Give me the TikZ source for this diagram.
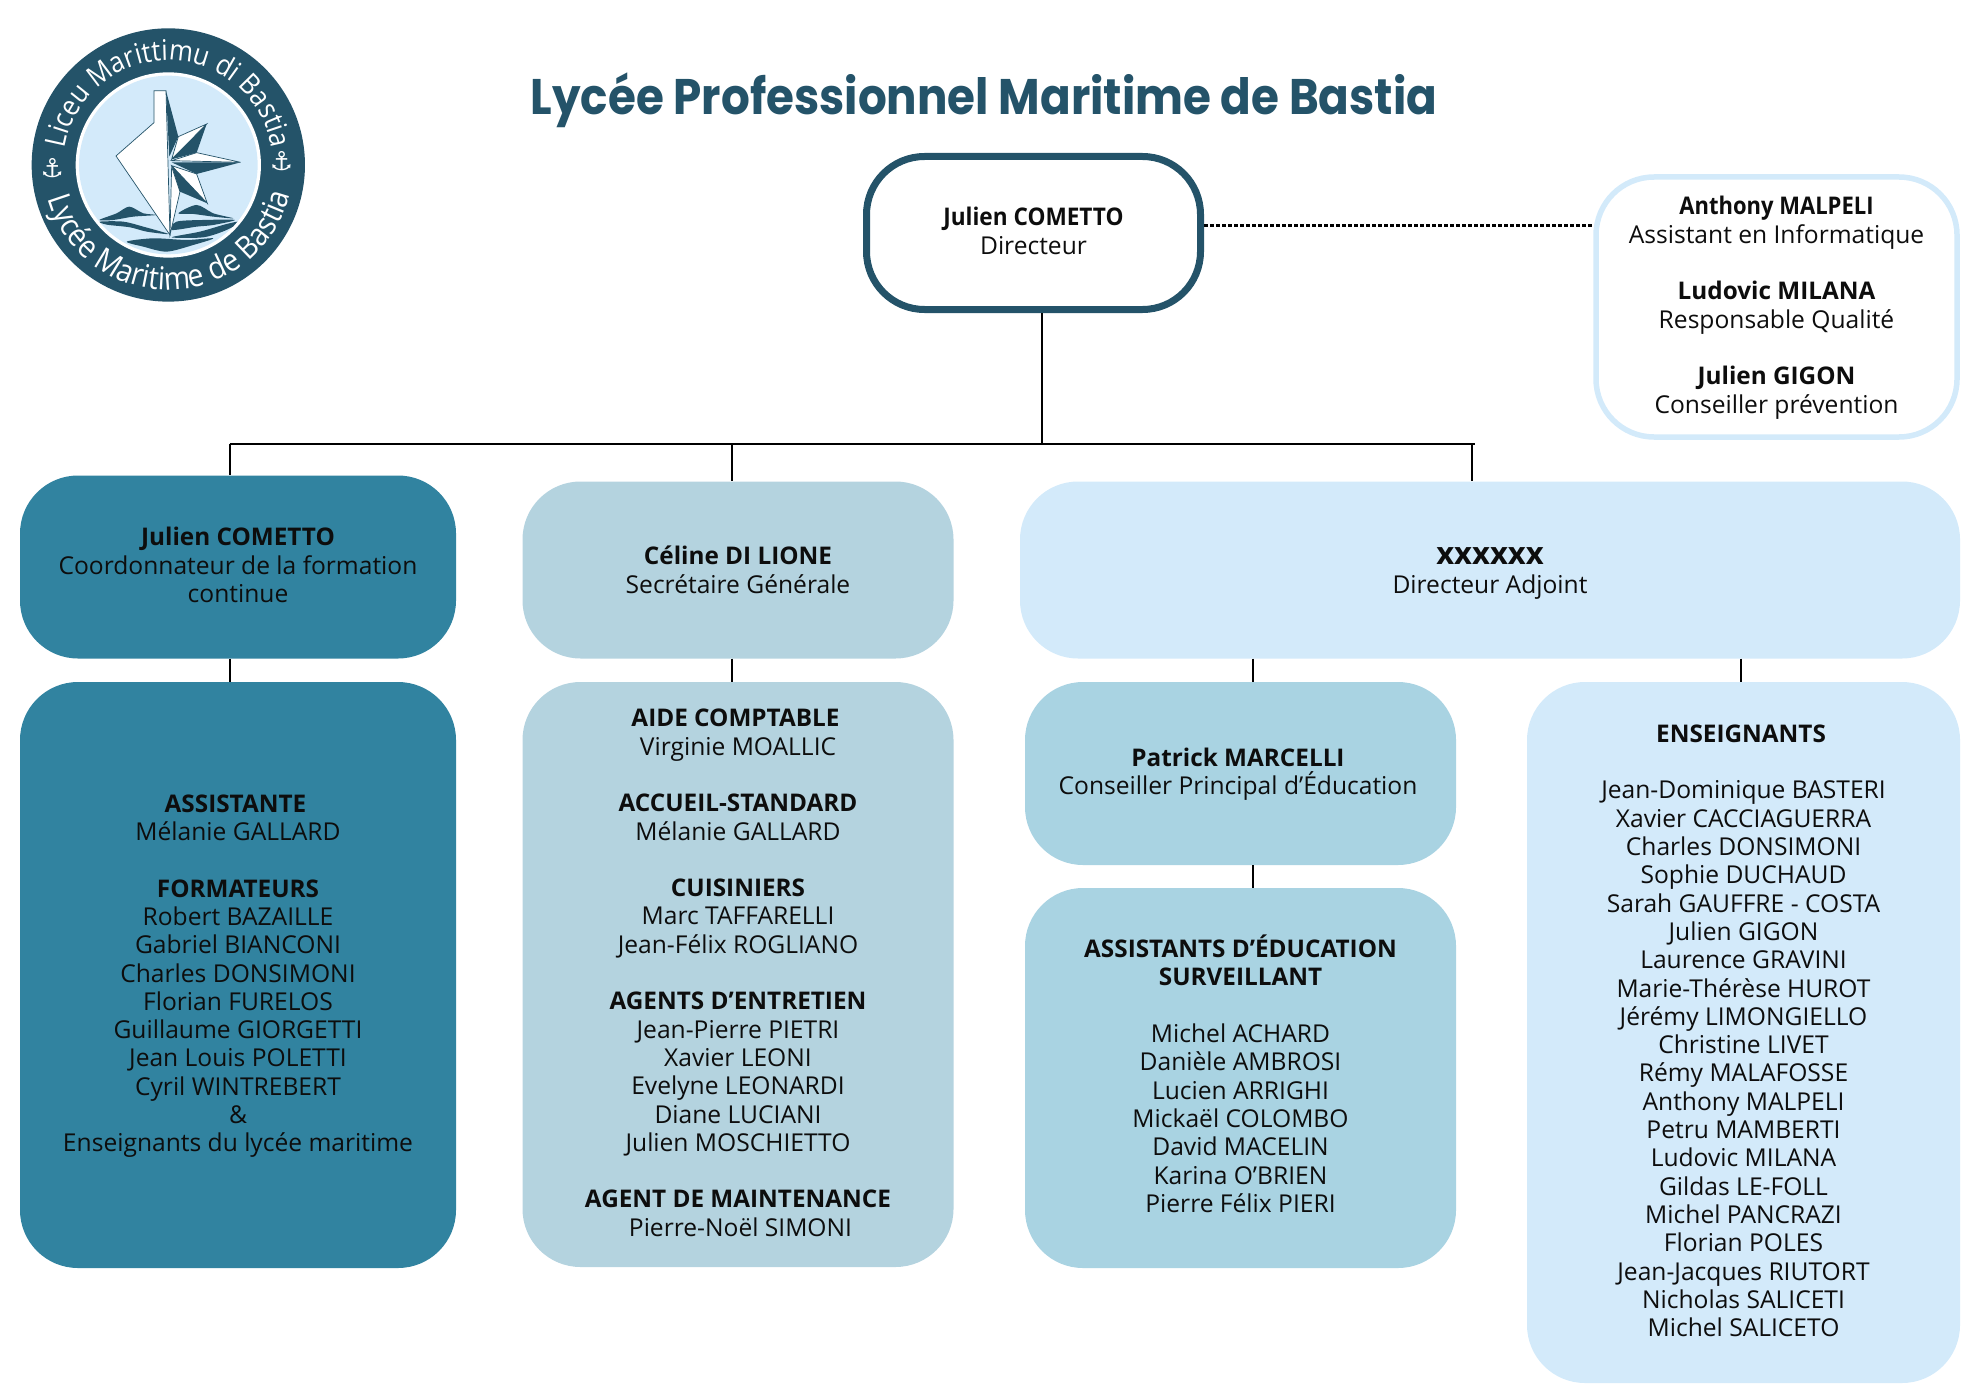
\documentclass[tikz,border=0pt]{standalone}
\usepackage{fontspec}
\usepackage{tikz}
\usetikzlibrary{decorations.text}
\setmainfont{Open Sans}
\newfontfamily\titlefont[FakeStretch=0.905]{Poppins}
\newfontfamily\symfont{DejaVu Sans}
\newfontfamily\logofont[FakeStretch=0.9]{Open Sans}
\definecolor{logoblue}{HTML}{245369}
\definecolor{logosky}{HTML}{D3EAFA}
\definecolor{teal}{HTML}{3183A0}
\definecolor{mist}{HTML}{B4D3DF}
\definecolor{sky}{HTML}{D3EAFA}
\definecolor{aqua}{HTML}{A9D3E2}
\definecolor{ink}{HTML}{0D0D0D}
\newcommand{\nm}[1]{{\fontsize{24.3}{28.3}\selectfont\bfseries #1}}
\newcommand{\nmn}[2]{\scalebox{#1}[1]{\nm{#2}}}
\newcommand{\gap}{\\[28.3pt]}
\newcommand{\firstln}{\rule{0pt}{26pt}}
\newcommand{\lastln}[1][12]{\rule[-#1pt]{0pt}{#1pt}}
\newcommand{\ls}{\hspace*{5pt}}

\begin{document}
\begin{tikzpicture}[x=1pt,y=-1pt]
    \tikzstyle{orgbox}=[rounded corners=58pt,inner sep=0pt,align=center,text=ink,font=\fontsize{24.6}{28.3}\selectfont]
    \tikzstyle{framed}=[orgbox,draw,fill=white]
    \tikzstyle{link}=[draw=black,line width=2pt]
    \tikzstyle{logotext}=[text=white,inner sep=0pt,font=\symfont\fontsize{26}{26}\selectfont]
    \useasboundingbox (0,0) rectangle (1980,1399);

    % logo, in the pixels of the crop
    \begin{scope}[x=0.3333pt,y=-0.3333pt]
        \fill[logoblue] (505,495) circle (410);
        \fill[white] (505,495) circle (278);
        \fill[logosky] (505,495) circle (268);
        \begin{scope}
            \clip (505,495) circle (268);
            \fill[logoblue] plot[smooth cycle,tension=0.5] coordinates {(298,660) (350,640) (388,620) (430,640) (470,645) (400,650) (340,660)};
            \fill[logoblue] plot[smooth cycle,tension=0.5] coordinates {(300,665) (370,665) (430,680) (505,702) (440,695) (390,682) (320,674)};
            \fill[logoblue] plot[smooth cycle,tension=0.5] coordinates {(535,640) (590,615) (640,640) (700,655) (640,650) (580,642)};
            \fill[logoblue] plot[smooth cycle,tension=0.5] coordinates {(530,665) (610,660) (705,660) (640,675) (590,680) (515,690)};
            \fill[logoblue] plot[smooth cycle,tension=0.5] coordinates {(515,712) (600,695) (680,672) (720,665) (680,690) (610,712)};
            \fill[logoblue] plot[smooth cycle,tension=0.5] coordinates {(380,725) (460,715) (560,720) (640,715) (580,735) (500,755) (430,740)};
        \end{scope}
        \filldraw[fill=white,draw=logoblue,line width=0.7pt] (462,272) -- (498,272) -- (510,705) -- (348,468) -- (462,368) -- cycle;
        \filldraw[fill=white,draw=logoblue,line width=0.7pt] (515,500) -- (540,575) -- (510,705) -- cycle;
        \fill[logoblue] (498,272) -- (535,410) -- (508,470) -- cycle;
        \filldraw[fill=white,draw=logoblue,line width=0.7pt] (515,478) -- (535,410) -- (620,372) -- cycle;
        \fill[logoblue] (515,478) -- (620,372) -- (590,458) -- cycle;
        \filldraw[fill=white,draw=logoblue,line width=0.7pt] (515,482) -- (590,458) -- (722,487) -- cycle;
        \fill[logoblue] (515,487) -- (722,487) -- (590,522) -- cycle;
        \filldraw[fill=white,draw=logoblue,line width=0.7pt] (515,497) -- (590,522) -- (622,610) -- cycle;
        \fill[logoblue] (515,497) -- (622,610) -- (540,575) -- cycle;
        \node[logotext] (anchor-l) at (157,503) {⚓};
        \node[logotext] (anchor-r) at (845,483) {⚓};
    \end{scope}
    \begin{scope}[x=0.3333pt,y=0.3333pt,shift={(505,-495)}]
        \path[decorate,decoration={text along path,text align=center,
            text={|\logofont\fontsize{28.5}{30}\selectfont\color{white}|Liceu Marittimu di Bastia}}]
            (172:314) arc[start angle=172,end angle=8,radius=314];
        \path[decorate,decoration={text along path,text align=center,
            text={|\logofont\fontsize{31.5}{32}\selectfont\color{white}|Lycée Maritime de Bastia}}]
            (192:375) arc[start angle=192,end angle=350,radius=375];
    \end{scope}

    \node[anchor=base,text=logoblue,font=\titlefont\bfseries\fontsize{50}{50}\selectfont] (title) at (984,115) {Lycée Professionnel Maritime de Bastia};

    \node[framed,draw=logoblue,line width=7pt,minimum width=334pt,minimum height=153pt] (dir) at (1033.5,233) {\firstln\nmn{.93}{Julien COMETTO}\\Directeur\lastln};
    \node[framed,draw=sky,line width=5.5pt,minimum width=361pt,minimum height=260pt] (staff) at (1776.5,307) {\firstln\nmn{.905}{Anthony MALPELI}\\Assistant en Informatique\gap\nm{Ludovic MILANA}\\Responsable Qualité\gap\nm{Julien GIGON}\\Conseiller prévention\lastln};

    \node[orgbox,fill=teal,minimum width=436pt,minimum height=183pt] (coord) at (238,567) {\firstln\nm{Julien COMETTO}\\Coordonnateur de la formation\\continue\lastln};
    \node[orgbox,fill=mist,minimum width=431pt,minimum height=177pt] (sec) at (738,570) {\firstln\nm{Céline DI LIONE}\\Secrétaire Générale\lastln[8]};
    \node[orgbox,fill=sky,minimum width=940pt,minimum height=177pt] (adj) at (1490,570) {\firstln\nm{\fontsize{31}{28.3}\selectfont xxxxxx}\\Directeur Adjoint\lastln[8]};

    \node[orgbox,fill=teal,minimum width=436pt,minimum height=586pt] (form) at (238,975) {\firstln\nm{ASSISTANTE}\ls\\Mélanie GALLARD\ls\gap\nm{FORMATEURS}\ls\\Robert BAZAILLE\\Gabriel BIANCONI\\Charles DONSIMONI\ls\\Florian FURELOS\ls\\Guillaume GIORGETTI\\Jean Louis POLETTI\\Cyril WINTREBERT\\\&\\Enseignants du lycée maritime\lastln};
    \node[orgbox,fill=mist,minimum width=431pt,minimum height=585pt] (agents) at (738,974.5) {\firstln\nm{AIDE COMPTABLE}\ls\\Virginie MOALLIC\ls\gap\nm{ACCUEIL-STANDARD}\ls\\Mélanie GALLARD\ls\gap\nm{CUISINIERS}\\Marc TAFFARELLI\ls\\Jean-Félix ROGLIANO\gap\nm{AGENTS D’ENTRETIEN}\\Jean-Pierre PIETRI\ls\\Xavier LEONI\ls\\Evelyne LEONARDI\ls\\Diane LUCIANI\ls\\Julien MOSCHIETTO\ls\gap\nm{AGENT DE MAINTENANCE}\\\hspace*{5pt}Pierre-Noël SIMONI\lastln};
    \node[orgbox,fill=aqua,minimum width=431pt,minimum height=183pt] (cpe) at (1240.5,773.5) {\firstln\nm{Patrick MARCELLI}\ls\\Conseiller Principal d’Éducation\ls\lastln};
    \node[orgbox,fill=aqua,minimum width=431pt,minimum height=380pt] (surv) at (1240.5,1078) {\firstln\nm{ASSISTANTS D’ÉDUCATION}\\\nm{SURVEILLANT}\gap Michel ACHARD\\Danièle AMBROSI\\Lucien ARRIGHI\\Mickaël COLOMBO\\David MACELIN\\Karina O’BRIEN\\Pierre Félix PIERI\lastln};
    \node[orgbox,fill=sky,minimum width=433pt,minimum height=701pt] (ens) at (1743.5,1032.5) {\firstln\nm{ENSEIGNANTS}\ls\gap Jean-Dominique BASTERI\\Xavier CACCIAGUERRA\ls\\Charles DONSIMONI\\Sophie DUCHAUD\\Sarah GAUFFRE - COSTA\ls\\Julien GIGON\\Laurence GRAVINI\\Marie-Thérèse HUROT\\Jérémy LIMONGIELLO\\Christine LIVET\\Rémy MALAFOSSE\\Anthony MALPELI\\Petru MAMBERTI\\Ludovic MILANA\\Gildas LE-FOLL\\Michel PANCRAZI\\Florian POLES\\Jean-Jacques RIUTORT\\Nicholas SALICETI\\Michel SALICETO\lastln};

    \coordinate (bus-l) at (229.5,444);
    \coordinate (bus-r) at (1475,444);
    \coordinate (trunk) at (1041.5,444);
    \coordinate (bus-b) at (732,444);
    \coordinate (bus-c) at (1471.5,444);
    \coordinate (dash-y) at (0,225);
    \coordinate (x-cpe) at (1253,0);
    \coordinate (x-ens) at (1741,0);

    \draw[link,line width=2.6pt] (bus-l) -- (bus-r);
    \draw[link] (dir.south -| trunk) -- (trunk);
    \draw[line width=3pt,dash pattern=on 4pt off 2pt] (dir.east |- dash-y) -- (staff.west |- dash-y);
    \foreach \from/\to in {bus-l/coord, bus-b/sec, bus-c/adj}
        \draw[link] (\from) -- (\from |- \to.north);
    \foreach \from/\to/\at in {coord/form/bus-l, sec/agents/bus-b, adj/cpe/x-cpe, adj/ens/x-ens, cpe/surv/x-cpe}
        \draw[link] (\from.south -| \at) -- (\to.north -| \at);
\end{tikzpicture}
\end{document}
